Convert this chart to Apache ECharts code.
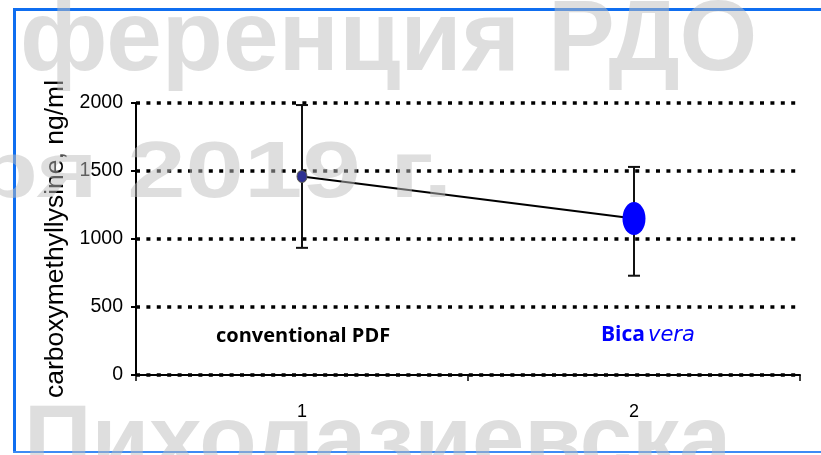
<!DOCTYPE html>
<html><head><meta charset="utf-8">
<script src="https://cdn.jsdelivr.net/npm/echarts@6/dist/echarts.min.js"></script>
<style>html,body{margin:0;padding:0;background:#fff;}#c{width:821px;height:455px;}</style>
</head><body><div id="c"></div>
<script>
var categories = ['1', '2'];
var means = [1460, 1150];
var errLow = [935, 730];
var errHigh = [1985, 1530];
var yTicks = [0, 500, 1000, 1500, 2000];
var groupLabels = ['conventional PDF', 'Bica', 'vera'];
var yTitle = 'carboxymethyllysine, ng/ml';
var watermarks = ['ференция РДО', 'ря 2019 г.', 'Пихолазиевска'];

var chart = echarts.init(document.getElementById('c'), null, {renderer: 'canvas'});
var errData = categories.map(function (c, i) { return [i, errLow[i], errHigh[i]]; });
var wmFill = 'rgba(190,190,190,0.5)';
var option = {
  animation: false,
  backgroundColor: '#fff',
  grid: {left: 136, right: 21, top: 103, bottom: 80, containLabel: false},
  xAxis: {
    type: 'category', data: categories, boundaryGap: true,
    axisLine: {lineStyle: {color: '#000', width: 2}},
    axisTick: {show: true, length: 6, lineStyle: {color: '#000', width: 1.5}},
    axisLabel: {color: '#000', fontFamily: 'Liberation Sans', fontSize: 18, margin: 28},
    splitLine: {show: false}
  },
  yAxis: {
    type: 'value', min: yTicks[0], max: yTicks[yTicks.length - 1], interval: 500,
    name: yTitle, nameLocation: 'middle', nameGap: 62, nameRotate: 90,
    nameTextStyle: {color: '#000', fontFamily: 'Liberation Sans', fontSize: 26.5},
    axisLine: {show: true, lineStyle: {color: '#000', width: 2}},
    axisTick: {show: true, inside: false, length: 5, lineStyle: {color: '#000', width: 2}},
    axisLabel: {color: '#000', fontFamily: 'Liberation Sans', fontSize: 19.5, margin: 13,
      formatter: function (v) { return String(v); }},
    splitLine: {show: true, lineStyle: {color: '#000', width: 3.5, type: [4, 6.4], cap: 'butt'}}
  },
  series: [
    {
      type: 'custom', z: 3,
      renderItem: function (params, api) {
        var x = api.value(0);
        var lo = api.coord([x, api.value(1)]);
        var hi = api.coord([x, api.value(2)]);
        var hw = 6;
        var st = {stroke: '#111', lineWidth: 2};
        return {type: 'group', children: [
          {type: 'line', shape: {x1: lo[0], y1: lo[1], x2: hi[0], y2: hi[1]}, style: st},
          {type: 'line', shape: {x1: lo[0] - hw, y1: lo[1], x2: lo[0] + hw, y2: lo[1]}, style: st},
          {type: 'line', shape: {x1: hi[0] - hw, y1: hi[1], x2: hi[0] + hw, y2: hi[1]}, style: st}
        ]};
      },
      data: errData
    },
    {
      type: 'line', z: 4,
      data: [
        {value: means[0], symbol: 'circle', symbolSize: [10, 12], itemStyle: {color: '#2e3192', borderColor: '#555', borderWidth: 1}},
        {value: means[1], symbol: 'circle', symbolSize: [23, 33], itemStyle: {color: '#0000ff', borderWidth: 0}}
      ],
      lineStyle: {color: '#000', width: 2},
      showSymbol: true
    }
  ],
  graphic: [
    {type: 'rect', left: 13, top: 8, shape: {width: 808, height: 3}, style: {fill: '#0f6ef0'}, z: 10},
    {type: 'rect', left: 13, top: 8, shape: {width: 3, height: 445}, style: {fill: '#0f6ef0'}, z: 10},
    {type: 'rect', left: 13, top: 451, shape: {width: 808, height: 2}, style: {fill: '#3d8bf5'}, z: 10},
    {type: 'text', left: 216, top: 326, z: 10, style: {text: groupLabels[0], fill: '#000', font: 'bold 20px "Open Sans"'}},
    {type: 'text', left: 601, top: 325, z: 10, style: {
      text: '{a|' + groupLabels[1] + '}{b|' + groupLabels[2] + '}',
      rich: {a: {fill: '#0000ff', font: 'bold 21px "Open Sans"'}, b: {fill: '#0000ff', font: 'italic 21px "DejaVu Sans"', padding: [0, 0, 0, 3]}}
    }},
    {type: 'text', x: 20, y: 92, z: 20, silent: true, style: {text: watermarks[0], textVerticalAlign: 'bottom', fill: wmFill, font: 'bold 100px "Liberation Sans"'}},
    {type: 'text', x: -26, y: 215, scaleX: 1.05, scaleY: 0.8, z: 20, silent: true, style: {text: watermarks[1], textVerticalAlign: 'bottom', fill: wmFill, font: 'bold 100px "Liberation Sans"'}},
    {type: 'text', x: 24, y: 492, z: 20, silent: true, style: {text: watermarks[2], textVerticalAlign: 'bottom', fill: wmFill, font: 'bold 94px "Liberation Sans"'}}
  ]
};
chart.setOption(option);
</script></body></html>
